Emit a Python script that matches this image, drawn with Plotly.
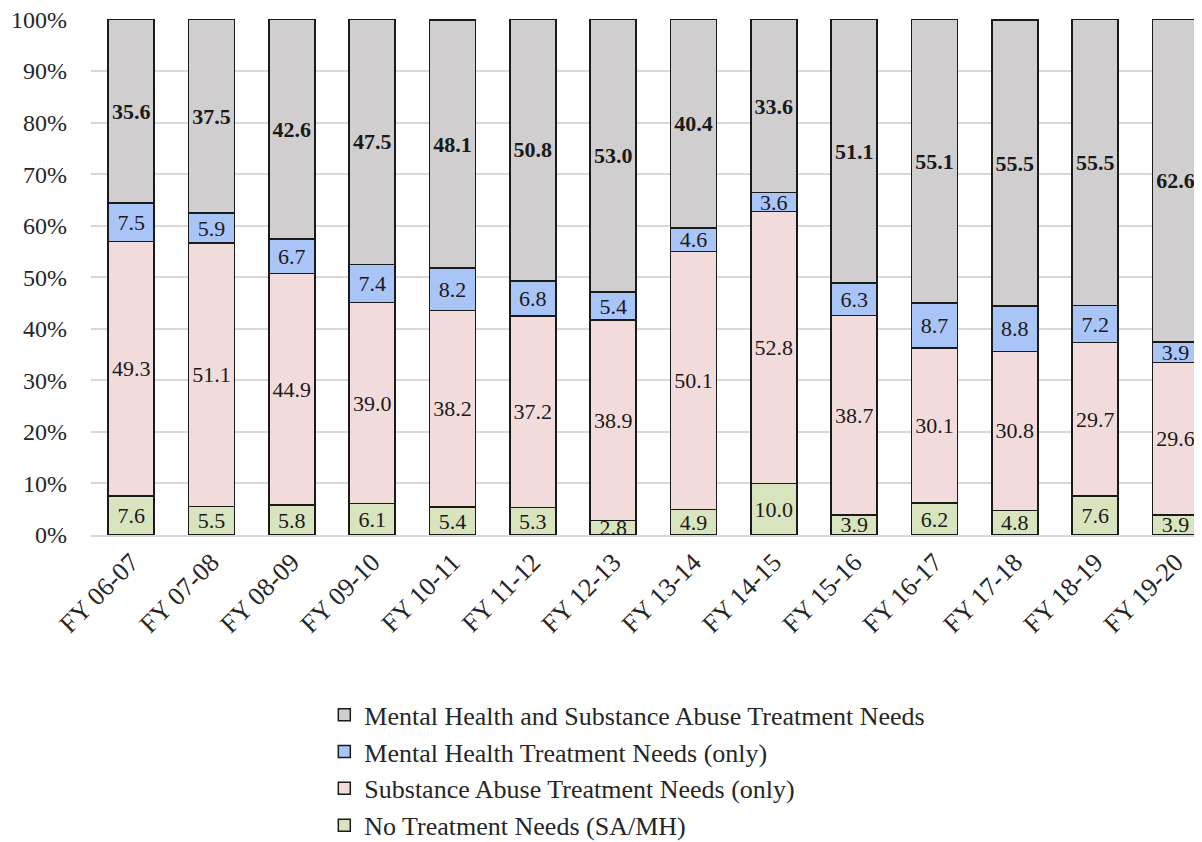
import plotly.graph_objects as go

categories = ["FY 06-07", "FY 07-08", "FY 08-09", "FY 09-10", "FY 10-11", "FY 11-12", "FY 12-13",
              "FY 13-14", "FY 14-15", "FY 15-16", "FY 16-17", "FY 17-18", "FY 18-19", "FY 19-20"]
no_needs = [7.6, 5.5, 5.8, 6.1, 5.4, 5.3, 2.8, 4.9, 10.0, 3.9, 6.2, 4.8, 7.6, 3.9]
sa_only = [49.3, 51.1, 44.9, 39.0, 38.2, 37.2, 38.9, 50.1, 52.8, 38.7, 30.1, 30.8, 29.7, 29.6]
mh_only = [7.5, 5.9, 6.7, 7.4, 8.2, 6.8, 5.4, 4.6, 3.6, 6.3, 8.7, 8.8, 7.2, 3.9]
both = [35.6, 37.5, 42.6, 47.5, 48.1, 50.8, 53.0, 40.4, 33.6, 51.1, 55.1, 55.5, 55.5, 62.6]
y_ticks = [0, 10, 20, 30, 40, 50, 60, 70, 80, 90, 100]

series = [
    ("No Treatment Needs (SA/MH)", no_needs, "#d7e4bd", "normal"),
    ("Substance Abuse Treatment Needs (only)", sa_only, "#f2dcdb", "normal"),
    ("Mental Health Treatment Needs (only)", mh_only, "#a9c4f7", "normal"),
    ("Mental Health and Substance Abuse Treatment Needs", both, "#d0cece", "bold"),
]

FONT = "Liberation Serif"
fig = go.Figure()
for name, vals, color, weight in series:
    fig.add_trace(go.Bar(
        name=name, x=list(range(len(categories))), y=vals,
        text=[f"{v:.1f}" for v in vals],
        textposition="inside", insidetextanchor="middle",
        textangle=0, constraintext="none",
        textfont=dict(family=FONT, size=22, color="#1a1a1a", weight=weight),
        marker=dict(color=color, line=dict(color="#1a1a1a", width=1.5)),
        cliponaxis=False,
    ))

fig.update_layout(
    barmode="stack", bargap=0.427,
    width=1194, height=834,
    margin=dict(l=83, r=0, t=11, b=307, autoexpand=False),
    paper_bgcolor="white", plot_bgcolor="white",
    font=dict(family=FONT, size=22, color="#262626"),
    uniformtext=dict(minsize=22, mode="show"),
    legend=dict(orientation="v", traceorder="reversed", x=0.210, xanchor="left",
                y=-0.303, yanchor="top", font=dict(family=FONT, size=26, color="#262626"),
                itemwidth=30),
    showlegend=True,
)
fig.update_yaxes(range=[0, 100.1], tickmode="array", tickvals=y_ticks,
                 ticktext=[f"{v}%" for v in y_ticks],
                 showgrid=True, gridcolor="#d9d9d9", ticklabeloverflow="allow",
                 gridwidth=1.5, zeroline=False, showline=False, ticks="", ticklabelstandoff=23,
                 tickfont=dict(family=FONT, size=24, color="#262626"))
fig.update_xaxes(range=[-0.5, 13.33], tickmode="array", tickvals=list(range(len(categories))),
                 ticktext=categories, tickangle=-45, showline=True, linecolor="#d9d9d9",
                 linewidth=1.5, ticks="", showgrid=False,
                 tickfont=dict(family=FONT, size=26, color="#262626"))

fig.write_html("out.html")
